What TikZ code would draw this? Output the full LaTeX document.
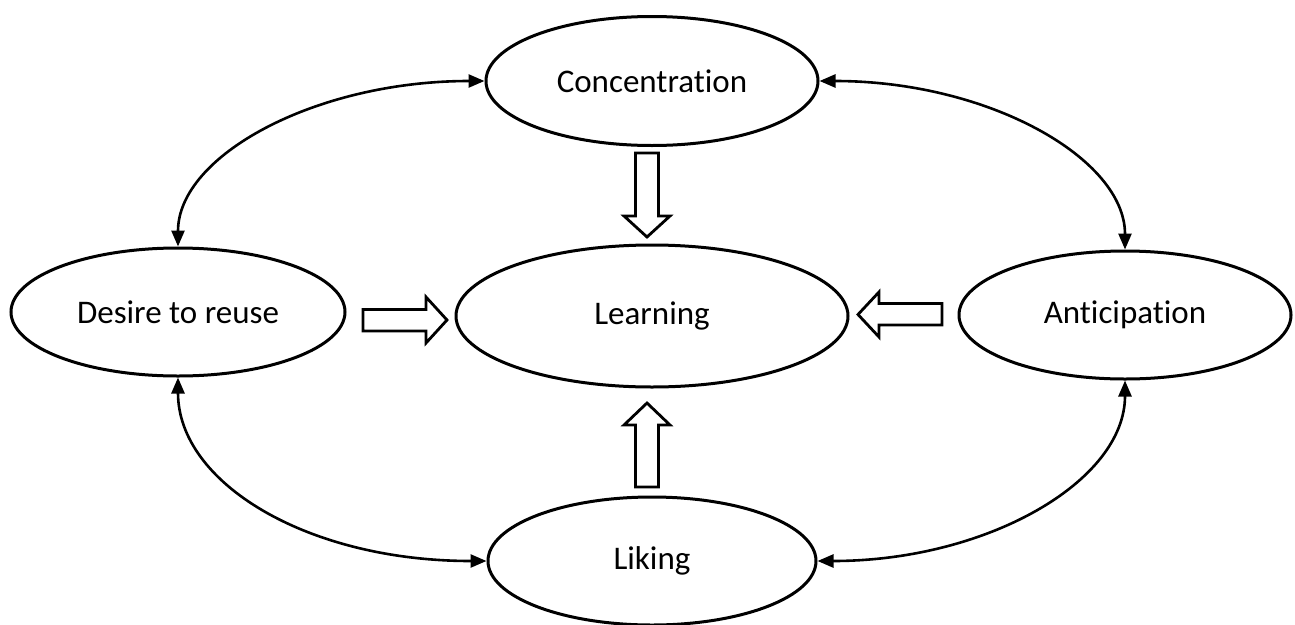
\documentclass[tikz,border=0pt]{standalone}
\usepackage{fontspec}
\setmainfont[Ligatures={NoCommon}]{Carlito}
\usetikzlibrary{arrows.meta,shapes.geometric}
\begin{document}
\begin{tikzpicture}[x=1pt,y=-1pt,
  oval/.style={ellipse,draw,line width=3pt,inner sep=0pt,fill=white,
    font=\fontsize{33}{40}\selectfont},
  link/.style={line width=2.6pt,{Triangle[length=16pt,width=13pt]}-{Triangle[length=16pt,width=13pt]}},
  fat/.style={draw,line width=2.8pt,fill=white,line join=miter}]
\useasboundingbox[fill=white] (0,0) rectangle (1295,624);

\node[oval,minimum width=332pt,minimum height=129pt] (conc)   at (652,81)  {Concentration};
\node[oval,minimum width=334pt,minimum height=128pt] (desire) at (178,312) {Desire to reuse};
\node[oval,minimum width=392pt,minimum height=142pt] (learn)  at (652,316) {Learning};
\node[oval,minimum width=332pt,minimum height=128pt] (antic)  at (1125,315) {Anticipation};
\node[oval,minimum width=328pt,minimum height=128pt] (liking) at (652,561) {Liking};

% curved two-headed connectors
\draw[link] (desire.north) .. controls +(0,-91) and +(-169,0) .. (conc.west);
\draw[link] (conc.east) .. controls +(169,0) and +(0,-91) .. (antic.north);
\draw[link] (desire.south) .. controls +(0,105) and +(-180,0) .. (liking.west);
\draw[link] (antic.south) .. controls +(0,101) and +(169,0) .. (liking.east);

% block arrows
% Concentration -> Learning (down)
\draw[fat] (635.5,153) -- (658.5,153) -- (658.5,216) -- (670,216) -- (647,237)
  -- (624,216) -- (635.5,216) -- cycle;
% Liking -> Learning (up)
\draw[fat] (635.5,487) -- (658.5,487) -- (658.5,425) -- (670,425) -- (647,403)
  -- (624,425) -- (635.5,425) -- cycle;
% Desire to reuse -> Learning (right)
\draw[fat] (363,309.5) -- (426,309.5) -- (426,297) -- (447,320) -- (426,343)
  -- (426,331) -- (363,331) -- cycle;
% Anticipation -> Learning (left)
\draw[fat] (942,303.5) -- (879,303.5) -- (879,292) -- (858,314.5) -- (879,337)
  -- (879,325) -- (942,325) -- cycle;
\end{tikzpicture}
\end{document}
